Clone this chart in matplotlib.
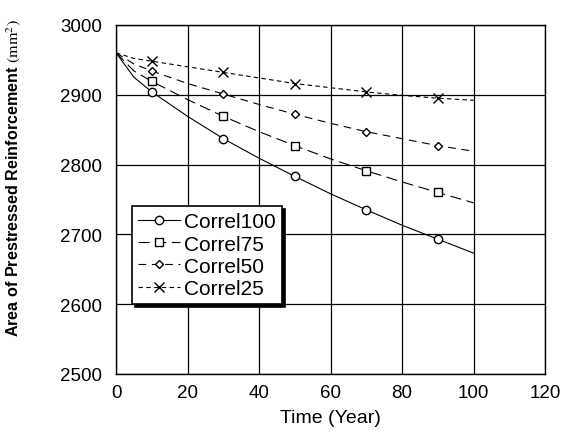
import numpy as np
import matplotlib.pyplot as plt

plt.rcParams['font.family'] = ['Liberation Sans', 'DejaVu Sans']
plt.rcParams['mathtext.fontset'] = 'stix'

# time (years) and read-off areas (mm^2)
years = [0, 5, 10, 20, 30, 40, 50, 60, 70, 80, 90, 100]
correl100 = [2960, 2925, 2904, 2869, 2837, 2809, 2783, 2758, 2735, 2713, 2693, 2673]
correl75 = [2960, 2934, 2919, 2893, 2869, 2847, 2827, 2808, 2791, 2775, 2760, 2745]
correl50 = [2960, 2944, 2934, 2916, 2901, 2886, 2872, 2859, 2847, 2837, 2827, 2819]
correl25 = [2960, 2952, 2948, 2940, 2932, 2924, 2916, 2910, 2904, 2899, 2895, 2892]
mark_idx = [2, 4, 6, 8, 10]  # markers at 10, 30, 50, 70, 90

fig = plt.figure(figsize=(5.69, 4.39), dpi=100)
ax = fig.add_axes([0.204, 0.146, 0.754, 0.795])

mk = dict(color='black', markerfacecolor='white', markeredgecolor='black',
          markevery=mark_idx, markersize=6, linewidth=0.8)
ax.plot(years, correl100, '-', marker='o', label='Correl100', **mk)
ax.plot(years, correl75, linestyle=(0, (10, 5)), marker='s', label='Correl75', **mk)
ax.plot(years, correl50, linestyle=(0, (7, 5)), marker='D', label='Correl50',
        **{**mk, 'markersize': 4.5})
ax.plot(years, correl25, linestyle=(0, (4, 3)), marker='x', label='Correl25',
        **{**mk, 'markersize': 7})

ax.set_xlim(0, 120)
ax.set_ylim(2500, 3000)
ax.set_xticks(np.arange(0, 121, 20))
ax.set_yticks(np.arange(2500, 3001, 100))
ax.grid(True, color='black', linewidth=0.9)
ax.tick_params(length=0, labelsize=13.5)
ax.tick_params(axis='x', pad=7)
ax.tick_params(axis='y', pad=10)
for s in ax.spines.values():
    s.set_linewidth(1.0)

ax.set_xlabel('Time (Year)', fontsize=14, labelpad=6)
ax.set_ylabel(r'Area of Prestressed Reinforcement $(\mathrm{mm}^2)$',
              fontsize=11.6, fontweight='bold')
ax.yaxis.set_label_coords(-0.218, 0.565)

leg = ax.legend(loc='lower left', bbox_to_anchor=(0.037, 0.2), fontsize=15,
                frameon=True, fancybox=False, handlelength=2.0,
                handletextpad=0.2, borderpad=0.3, labelspacing=0.15,
                borderaxespad=0,
                shadow={'facecolor': 'black', 'edgecolor': 'black', 'alpha': 1})
leg.get_frame().set_edgecolor('black')
leg.get_frame().set_linewidth(1.2)
leg.get_frame().set_alpha(1)

fig.savefig('out.png', dpi=100)
